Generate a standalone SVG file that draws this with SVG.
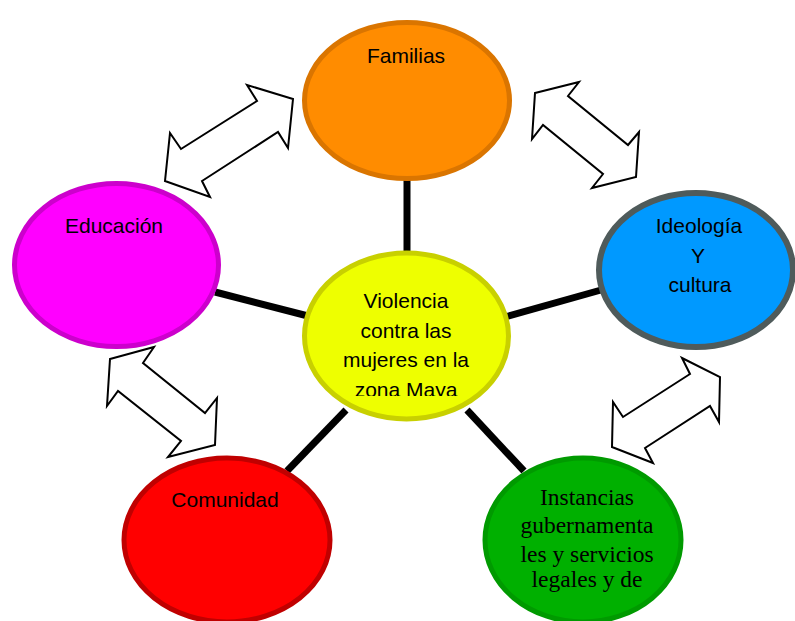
<svg xmlns="http://www.w3.org/2000/svg" width="795" height="621" viewBox="0 0 795 621">
<style>
.sans{font-family:"Liberation Sans",Arial,sans-serif;font-size:21px;fill:#000;text-anchor:middle}
.serif{font-family:"Liberation Serif","Times New Roman",serif;font-size:23.5px;fill:#000;text-anchor:middle}
.conn{stroke:#000;stroke-width:7;fill:none}
.darrow{fill:#fff;stroke:#000;stroke-width:2;stroke-linejoin:miter}
</style>
<defs>
<clipPath id="clipCenter"><rect x="300" y="250" width="215" height="146"/></clipPath>
</defs>
<rect width="795" height="621" fill="#fff"/>
<g id="connectors">
<line class="conn" x1="407" y1="175" x2="407" y2="256"/>
<line class="conn" x1="215" y1="292" x2="308" y2="316"/>
<line class="conn" x1="601" y1="290" x2="505" y2="317"/>
<line class="conn" x1="287" y1="471" x2="346" y2="410"/>
<line class="conn" x1="524" y1="471" x2="467" y2="410"/>
</g>
<g id="arrows">
<polygon class="darrow" points="247,85 257,101 181,149 170,133 165,181 210,197 202,181 278,132 288,148 293,99"/>
<polygon class="darrow" points="535,93 579,82 568,96 628,145 639,132 636,177 592,188 603,174 543,125 532,139"/>
<polygon class="darrow" points="110,359 154,347 143,363 205,413 217,398 215,445 168,457 181,441 118,391 107,406"/>
<polygon class="darrow" points="682,358 720,377 719,422 710,406 645,448 653,463 612,447 613,402 623,417 690,374"/>
</g>
<g id="familias">
<ellipse cx="407" cy="100.5" rx="102.5" ry="78" fill="#FF8C00" stroke="#DA7500" stroke-width="5"/>
<text class="sans" x="406" y="63">Familias</text>
</g>
<g id="educacion">
<ellipse cx="116.5" cy="265" rx="102" ry="81.5" fill="#FF00FF" stroke="#CC00CC" stroke-width="5"/>
<text class="sans" x="114" y="233">Educación</text>
</g>
<g id="ideologia">
<ellipse cx="696" cy="270" rx="97" ry="77" fill="#0099FF" stroke="#4F5B5B" stroke-width="6"/>
<text class="sans" x="699" y="233">Ideología</text>
<text class="sans" x="698" y="263">Y</text>
<text class="sans" x="700" y="292">cultura</text>
</g>
<g id="centro">
<ellipse cx="406.5" cy="336" rx="102" ry="83" fill="#EEFF00" stroke="#C8D000" stroke-width="5"/>
<g clip-path="url(#clipCenter)">
<text class="sans" x="406" y="308">Violencia</text>
<text class="sans" x="406" y="338">contra las</text>
<text class="sans" x="406" y="367">mujeres en la</text>
<text class="sans" x="406" y="397">zona Maya</text>
</g>
</g>
<g id="comunidad">
<ellipse cx="227" cy="540" rx="103" ry="82" fill="#FF0000" stroke="#C00000" stroke-width="5"/>
<text class="sans" x="225" y="507">Comunidad</text>
</g>
<g id="instancias">
<ellipse cx="583" cy="540" rx="98" ry="82" fill="#00B000" stroke="#009A00" stroke-width="5"/>
<text class="serif" x="587" y="505">Instancias</text>
<text class="serif" x="587" y="533">gubernamenta</text>
<text class="serif" x="587" y="562">les y servicios</text>
<text class="serif" x="587" y="587">legales y de</text>
</g>
</svg>
